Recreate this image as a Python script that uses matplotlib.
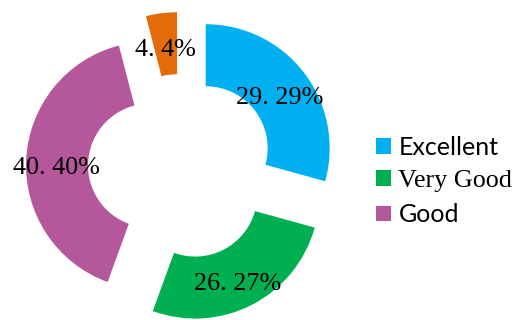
import numpy as np
import matplotlib.pyplot as plt

categories = ["Excellent", "Very Good", "Good", ""]
values = [29, 26, 40, 4]
label_texts = ["29. 29%", "26. 27%", "40. 40%", "4. 4%"]
colors = ["#00B0F0", "#00B050", "#B4589B", "#E46C0A"]

W, H = 517, 320
fig = plt.figure(figsize=(W / 100, H / 100), dpi=100)
ax = fig.add_axes([0, 0, 1, 1])

R = 124
cx, cy = 181, H - 167
# pie offsets are in data units here, so push every slice out ~31 px
wedges, _ = ax.pie(values, colors=colors, startangle=90, counterclock=False,
                   radius=R, center=(cx, cy), explode=[0.25 * R] * 4,
                   wedgeprops=dict(width=0.5 * R, linewidth=0))
ax.set_xlim(0, W)
ax.set_ylim(0, H)
ax.set_aspect("equal")
ax.axis("off")

# value labels in the middle of each ring segment (nudged down a bit)
for w, txt in zip(wedges, label_texts):
    ang = np.deg2rad((w.theta1 + w.theta2) / 2)
    x = w.center[0] + 0.755 * R * np.cos(ang)
    y = w.center[1] + 0.755 * R * np.sin(ang) - 4
    ax.text(x, y, txt, ha="center", va="center_baseline", fontsize=18.8,
            family="Liberation Serif", color="black")

leg = ax.legend(wedges[:3], categories[:3], loc="center left",
                bbox_to_anchor=(376 / W, (H - 181) / H), frameon=False,
                borderpad=0, borderaxespad=0, handlelength=0.6,
                handleheight=0.6, handletextpad=0.3, labelspacing=0.45,
                prop=dict(size=18, family="Lato"))
leg.get_texts()[1].set_family("Liberation Serif")
leg.get_texts()[1].set_size(18.8)

fig.savefig("out.png", dpi=100)
